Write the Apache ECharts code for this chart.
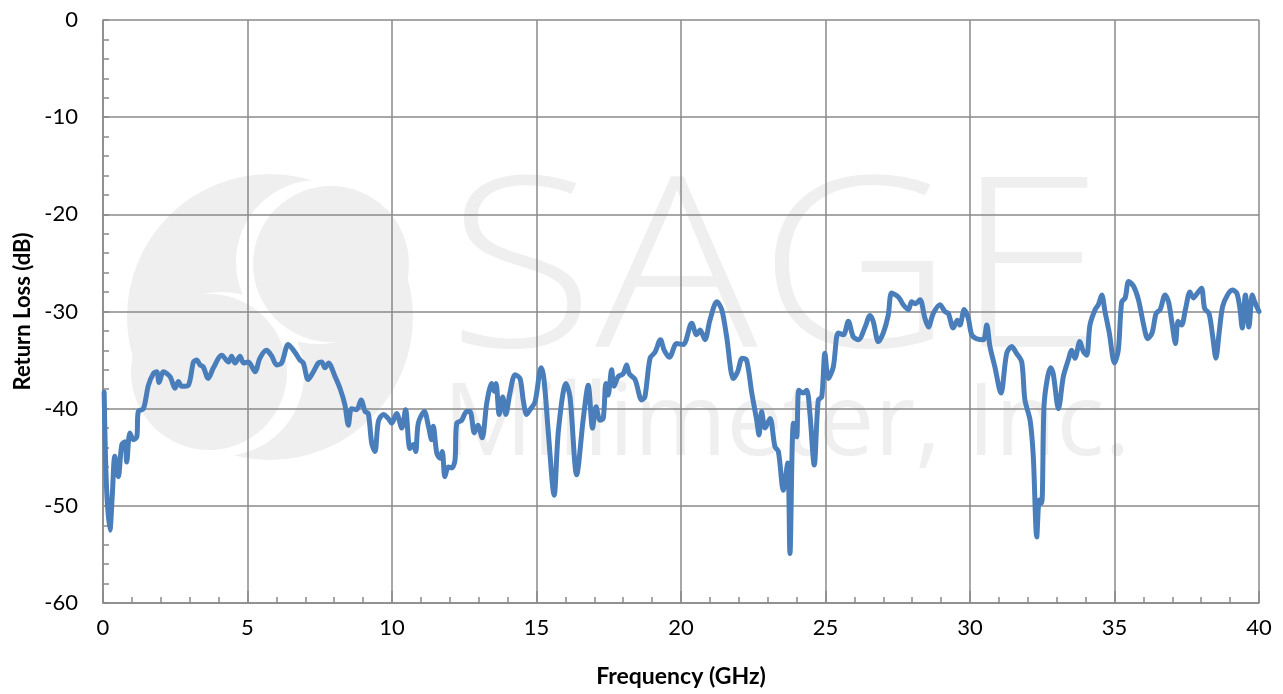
<!DOCTYPE html>
<html>
<head>
<meta charset="utf-8">
<script src="https://cdn.jsdelivr.net/npm/echarts@6/dist/echarts.min.js"></script>
<style>
html,body{margin:0;padding:0;background:#fff;}
#chart{width:1283px;height:694px;}
</style>
</head>
<body>
<div id="chart"></div>
<script>
const xAxisTitle = 'Frequency (GHz)';
const yAxisTitle = 'Return Loss (dB)';
const xTicks = [0, 5, 10, 15, 20, 25, 30, 35, 40];
const yTicks = [0, -10, -20, -30, -40, -50, -60];

const freq = [
0.04,0.12,0.24,0.32,0.41,0.53,0.65,0.76,0.82,0.93,1.05,1.17,1.22,1.4,1.57,1.74,1.86,1.94,2.09,2.32,
2.49,2.61,2.72,2.95,3.13,3.24,3.36,3.47,3.64,3.82,4.11,4.34,4.45,4.57,4.74,4.86,5.03,5.26,5.43,5.66,
5.84,6.01,6.18,6.41,6.64,6.82,6.93,7.1,7.28,7.45,7.57,7.68,7.8,8.03,8.2,8.37,8.49,8.6,8.78,8.93,
9.07,9.18,9.3,9.41,9.53,9.7,9.87,9.99,10.16,10.34,10.47,10.62,10.74,10.82,10.91,11.12,11.26,11.37,11.43,11.55,
11.66,11.74,11.83,11.95,12.07,12.18,12.24,12.41,12.58,12.7,12.85,12.97,13.12,13.28,13.45,13.53,13.6,13.71,13.83,13.94,
14.08,14.26,14.43,14.54,14.66,14.78,14.95,15.16,15.26,15.41,15.61,15.76,16.02,16.16,16.39,16.62,16.79,16.94,17.06,17.2,
17.31,17.4,17.48,17.6,17.68,17.83,18,18.12,18.21,18.41,18.64,18.75,18.93,19.1,19.29,19.42,19.6,19.85,20.08,20.37,
20.54,20.66,20.83,21,21.24,21.41,21.58,21.81,21.96,22.12,22.27,22.45,22.62,22.7,22.79,22.91,23.08,23.25,23.37,23.54,
23.69,23.77,23.89,24,24.08,24.23,24.35,24.46,24.61,24.75,24.87,24.98,25.1,25.27,25.44,25.62,25.79,25.96,26.14,26.37,
26.54,26.65,26.83,27,27.17,27.29,27.52,27.69,27.87,27.98,28.1,28.27,28.44,28.56,28.73,28.96,29.13,29.25,29.42,29.56,
29.65,29.8,29.94,30.06,30.23,30.46,30.58,30.69,30.86,31.07,31.27,31.44,31.61,31.79,31.9,32.08,32.19,32.31,32.4,32.48,
32.56,32.67,32.79,32.88,33.06,33.23,33.4,33.52,33.63,33.8,33.92,34.04,34.15,34.33,34.44,34.56,34.67,34.82,35,35.13,
35.25,35.37,35.49,35.66,35.83,36.01,36.15,36.3,36.44,36.58,36.75,36.87,36.99,37.11,37.2,37.32,37.46,37.61,37.73,37.87,
38.01,38.12,38.27,38.39,38.51,38.62,38.74,38.91,39.08,39.23,39.34,39.42,39.53,39.65,39.77,39.85,40
];
const returnLoss = [
-38.3,-48,-52.5,-49,-44.9,-47,-43.7,-43.4,-45.5,-42.5,-43.2,-42.9,-40.3,-40,-37.6,-36.4,-36.2,-37.3,-36.2,-36.7,
-37.9,-37.2,-37.7,-37.6,-35.2,-35,-35.5,-35.7,-36.9,-35.8,-34.5,-35.2,-34.6,-35.3,-34.6,-35.3,-35.2,-36.2,-34.8,-34,
-34.6,-35.5,-35.3,-33.4,-34.2,-35,-35.3,-37,-36.2,-35.3,-35.2,-35.8,-35.3,-36.7,-37.9,-39.6,-41.7,-40,-40.1,-39.1,
-40.3,-40.5,-43.6,-44.4,-41.3,-40.6,-41,-41.5,-40.5,-42,-40.1,-44.1,-43.7,-44.4,-41.5,-40.3,-41.8,-43.2,-41.8,-44.6,
-45.1,-44.4,-47,-46,-46.1,-45.3,-41.5,-41.2,-40.3,-40.3,-42.5,-41.7,-43,-39.4,-37.4,-38.2,-37.4,-40.6,-38.8,-40.6,
-38.4,-36.5,-36.9,-39.1,-40.6,-40.1,-39.3,-35.8,-37,-42.5,-48.9,-42.2,-37.4,-38.8,-46.8,-41,-37.6,-42,-39.8,-41.2,
-41,-37.4,-38.6,-36,-37.7,-36.7,-36.4,-35.5,-36.4,-37,-39.1,-38.8,-34.8,-34.2,-32.9,-34,-34.7,-33.3,-33.4,-31.2,
-32.4,-31.9,-32.9,-30.9,-29,-29.8,-32.6,-36.9,-36.2,-34.8,-35,-38.4,-41.2,-42.7,-40.3,-42,-41,-43.9,-44.4,-48.4,
-45.6,-54.9,-41.5,-42.9,-38.1,-38.4,-38.1,-40.5,-45.8,-39.1,-38.8,-34.3,-36.9,-35.7,-32.2,-32.4,-31,-32.6,-32.9,-31.6,
-30.4,-31,-33.1,-32.2,-30.4,-28.1,-28.5,-29.3,-29.8,-29,-29.2,-28.8,-30.7,-31.6,-30.2,-29.3,-30,-30.2,-31.7,-30.9,
-31.4,-29.8,-30.7,-32.4,-32.8,-32.9,-31.4,-33.6,-35.7,-38.4,-34.3,-33.6,-34.3,-35.2,-39.1,-41.2,-44.9,-53.2,-49.4,-49.7,
-39.8,-37,-35.8,-36.4,-40,-36.7,-35,-34,-34.8,-33.1,-34.1,-34.5,-31.4,-29.8,-29.3,-28.3,-30,-32.2,-35.3,-34,
-29,-28.6,-26.9,-27.4,-28.8,-31.4,-32.8,-32.2,-30.2,-29.8,-28.3,-29,-31.2,-33.3,-31,-31.4,-29.7,-28,-28.6,-28.1,
-27.6,-29.7,-30.2,-32.4,-34.8,-32.2,-29.5,-28.3,-27.8,-28.1,-29.7,-31.7,-28.3,-31.6,-28.3,-29,-30
];

const seriesData = freq.map((f, i) => [f, returnLoss[i]]);

const chart = echarts.init(document.getElementById('chart'), null, {renderer: 'canvas'});
const gridColor = '#8a8a8a';
const wm = '#efefef';
const font = 'Lato, "Open Sans", sans-serif';

chart.setOption({
  animation: false,
  backgroundColor: '#ffffff',
  grid: {left: 103, right: 24, top: 20, bottom: 91, containLabel: false},
  graphic: {
    elements: [
      {type: 'circle', z: -10, silent: true, shape: {cx: 270, cy: 317, r: 143}, style: {fill: wm}},
      {type: 'circle', z: -9, silent: true, shape: {cx: 318, cy: 262, r: 82}, style: {fill: '#ffffff'}},
      {type: 'circle', z: -8, silent: true, shape: {cx: 331, cy: 264, r: 78}, style: {fill: wm}},
      {type: 'circle', z: -9, silent: true, shape: {cx: 222, cy: 374, r: 82}, style: {fill: '#ffffff'}},
      {type: 'circle', z: -8, silent: true, shape: {cx: 209, cy: 372, r: 78}, style: {fill: wm}},
      {type: 'text', z: -10, silent: true, x: 447, y: 160, scaleX: 1.14,
        style: {text: 'SAGE', font: '300 238px "Open Sans", sans-serif', fill: wm}},
      {type: 'text', z: -10, silent: true, x: 443, y: 377,
        style: {text: 'Millimeter, Inc.', font: '400 100px "Open Sans", sans-serif', fill: wm}}
    ]
  },
  xAxis: {
    type: 'value', min: 0, max: 40, interval: 5,
    name: xAxisTitle, nameLocation: 'middle', nameGap: 62,
    nameTextStyle: {fontFamily: font, fontWeight: 'bold', fontSize: 23, color: '#000'},
    axisLine: {show: true, onZero: false, lineStyle: {color: gridColor, width: 1.5}},
    axisTick: {show: true, inside: true, length: 12, lineStyle: {color: gridColor, width: 1.5}},
    minorTick: {show: true, splitNumber: 5, length: 6, lineStyle: {color: gridColor, width: 1.5}},
    axisLabel: {fontFamily: font, fontSize: 22, color: '#000', margin: 14,
      formatter: v => xTicks.includes(v) ? String(v) : ''},
    splitLine: {show: true, lineStyle: {color: gridColor, width: 1.5}},
    z: 1
  },
  yAxis: {
    type: 'value', min: -60, max: 0, interval: 10,
    name: yAxisTitle, nameLocation: 'middle', nameGap: 64, nameRotate: 90,
    nameTextStyle: {fontFamily: font, fontWeight: 'bold', fontSize: 22, color: '#000'},
    axisLine: {show: true, onZero: false, lineStyle: {color: gridColor, width: 1.5}},
    axisTick: {show: true, inside: true, length: 6, lineStyle: {color: gridColor, width: 1.5}},
    minorTick: {show: true, splitNumber: 5, length: 6, lineStyle: {color: gridColor, width: 1.5}},
    axisLabel: {fontFamily: font, fontSize: 22, color: '#000', margin: 25,
      formatter: v => yTicks.includes(v) ? String(v) : ''},
    splitLine: {show: true, lineStyle: {color: gridColor, width: 1.5}},
    z: 1
  },
  series: [{
    type: 'line',
    data: seriesData,
    showSymbol: false,
    smooth: 0.3,
    lineStyle: {color: '#4a7ebb', width: 5, join: 'round', cap: 'round'},
    itemStyle: {color: '#4a7ebb'},
    z: 5
  }]
});
</script>
</body>
</html>
